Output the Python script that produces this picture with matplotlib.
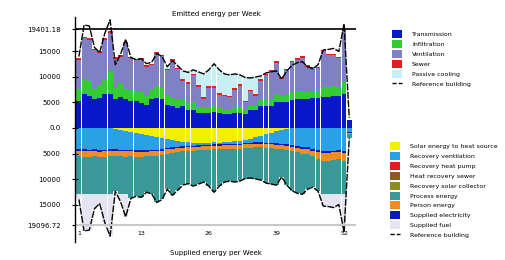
import matplotlib
matplotlib.use('Agg')
import matplotlib.pyplot as plt
from matplotlib.patches import Patch
from matplotlib.lines import Line2D
import numpy as np

weeks = list(range(1, 54))

# emitted energy (top half)
transmission = [5300, 6600, 6300, 5600, 5800, 6700, 6700, 5600, 6000, 5600, 5300, 5300, 4900, 4600, 5600, 5900, 5600, 4600,
                4300, 3900, 4300, 3600, 3600, 3000, 3000, 3000, 3200, 3000, 2800, 2800, 2900, 3000, 2800, 3600, 3600, 4300,
                4300, 4300, 5000, 5000, 5000, 5400, 5600, 5600, 5600, 5800, 5800, 6000, 6000, 6200, 6200, 6600, 1500]
infiltration = [2300, 3000, 3000, 2000, 2600, 2800, 4400, 2200, 2900, 2000, 2200, 2000, 2100, 1700, 1800, 2400, 2200, 1800,
                1600, 1500, 1300, 1300, 1500, 1100, 900, 1000, 1100, 900, 800, 800, 1000, 1100, 700, 1000, 900, 1200,
                1300, 1400, 1700, 1200, 1400, 1600, 1700, 1600, 1400, 1400, 1400, 2000, 2000, 2000, 1900, 2400, 100]
ventilation = [5800, 8000, 8000, 7600, 6300, 7800, 7600, 5800, 5100, 9000, 6200, 6000, 6500, 5700, 4900, 6200, 6300, 4900,
               7300, 6100, 3700, 3800, 5200, 4000, 1800, 3900, 3600, 2600, 2600, 2400, 3600, 4200, 1500, 2600, 1800, 3800,
               4700, 5300, 6100, 3500, 4900, 5900, 6100, 6600, 5000, 4500, 4500, 7000, 6300, 6100, 5600, 10000, 0]
sewer = [300] * 52 + [0]
passive_cooling = [0, 0, 0, 0, 0, 0, 0, 0, 0, 0, 0, 0, 0, 0, 0, 0, 0, 400,
                   0, 400, 1600, 1900, 800, 2600, 4600, 3200, 4400, 4600, 4100, 4100, 2800, 1800, 4600, 2300, 3400, 600,
                   200, 0, 0, 0, 0, 0, 0, 0, 0, 0, 0, 0, 0, 0, 0, 0, 0]

reference = [14000, 20200, 20000, 15800, 14800, 18600, 21200, 12400, 14400, 17400, 13800, 13400, 13600, 12600, 12900, 14600,
             14000, 12000, 13200, 12200, 11200, 10900, 11400, 11000, 10600, 11400, 12600, 11400, 10600, 10400, 10600, 10400,
             9900, 9800, 10000, 10200, 10800, 11000, 11200, 9600, 11200, 12300, 12800, 13000, 12000, 11600, 12400, 15300,
             15400, 15600, 15000, 20400, 2000]

# supplied energy (bottom half)
solar_heat_source = [0, 0, 0, 0, 0, 0, 0, 200, 300, 500, 700, 900, 1200, 1400, 1500, 1700, 1900, 2100, 2300, 2500, 2700,
                     2800, 3000, 3000, 2900, 3000, 2800, 2900, 2800, 2700, 2600, 2500, 2300, 2100, 1800, 1500, 1200, 900,
                     600, 400, 200, 0, 0, 0, 0, 0, 0, 0, 0, 0, 0, 0, 0]
recovery_ventilation = [4200, 4200, 4300, 4200, 4400, 4300, 4200, 4000, 4000, 3800, 3600, 3500, 3200, 3000, 2800, 2600,
                        2300, 1800, 1500, 1200, 900, 700, 500, 400, 400, 300, 400, 300, 300, 400, 500, 600, 600, 800, 1000,
                        1300, 1700, 2000, 2400, 2700, 3000, 3400, 3600, 3800, 3800, 4200, 4400, 4600, 4600, 4500, 4400,
                        4600, 800]
recovery_heat_pump = [0] * 53
heat_recovery_sewer = [0] * 53
recovery_solar_collector = [0] * 53
supplied_electricity = [300] * 52 + [100]
person_energy = [900, 1200, 1000, 900, 1000, 1100, 1000, 900, 900, 1000, 900, 900, 900, 800, 900, 900, 800, 800, 800, 800,
                 700, 700, 700, 700, 700, 700, 700, 700, 700, 700, 700, 700, 700, 700, 700, 700, 800, 800, 800, 800, 800,
                 900, 900, 900, 900, 1000, 1300, 1500, 1500, 1400, 1300, 1500, 200]
process_energy = [7600, 7300, 7400, 7600, 7300, 7300, 7500, 7000, 7500, 7400, 8300, 7800, 8000, 7100, 7400, 9100, 8700,
                  7000, 8300, 7400, 6600, 6400, 6900, 6600, 6300, 7100, 8400, 7200, 6500, 6300, 6500, 6300, 6000, 5900,
                  6200, 6400, 6800, 7000, 7100, 5400, 6900, 7700, 8000, 8000, 7000, 6100, 6400, 6600, 6600, 6800, 7000,
                  6600, 900]
supplied_fuel = [1000, 7200, 7000, 2800, 1800, 5600, 8200, 0, 1400, 4400] + [0] * 37 + [2300, 2400, 2600, 2000, 7400, 0]

top_max = 19401.18
bottom_max = 19096.72

top_series = [
    ('Transmission', transmission, '#0818C8'),
    ('Infiltration', infiltration, '#33CC33'),
    ('Ventilation', ventilation, '#8080C4'),
    ('Sewer', sewer, '#E02020'),
    ('Passive cooling', passive_cooling, '#C8F0F4'),
]
bottom_series = [
    ('Solar energy to heat source', solar_heat_source, '#F2F000'),
    ('Recovery ventilation', recovery_ventilation, '#2AA0E6'),
    ('Recovery heat pump', recovery_heat_pump, '#E02020'),
    ('Heat recovery sewer', heat_recovery_sewer, '#8B5A1E'),
    ('Recovery solar collector', recovery_solar_collector, '#8C8C20'),
    ('Supplied electricity', supplied_electricity, '#0A1AB8'),
    ('Person energy', person_energy, '#F08C20'),
    ('Process energy', process_energy, '#3A9898'),
    ('Supplied fuel', supplied_fuel, '#E4E4F2'),
]
bottom_legend_order = ['Solar energy to heat source', 'Recovery ventilation', 'Recovery heat pump',
                       'Heat recovery sewer', 'Recovery solar collector', 'Process energy', 'Person energy',
                       'Supplied electricity', 'Supplied fuel']

fig = plt.figure(figsize=(5.06, 2.6), dpi=100)
ax = fig.add_axes([75 / 506, 18 / 260, 281 / 506, 225 / 260])

x = np.array(weeks)
base = np.zeros(len(weeks))
for name, vals, col in top_series:
    ax.bar(x, vals, width=0.93, bottom=base, color=col, linewidth=0)
    base = base + np.array(vals)

base = np.zeros(len(weeks))
for name, vals, col in bottom_series:
    v = -np.array(vals)
    ax.bar(x, v, width=0.93, bottom=base, color=col, linewidth=0)
    base = base + v

ref = np.array(reference)
ax.plot(x, ref, color='black', lw=1.0, dashes=(5, 1))
ax.plot(x, -ref, color='black', lw=1.0, dashes=(5, 1))

ax.axhline(top_max, xmin=0.005, xmax=1.0, color='black', lw=1.2)
ax.axhline(-bottom_max, xmin=0.005, xmax=1.0, color='#c8c8c8', lw=1.5)

ax.set_xlim(0.25, 54.3)
ax.set_ylim(-22344, 21756)
for s in ['top', 'right', 'bottom']:
    ax.spines[s].set_visible(False)
ax.spines['left'].set_linewidth(1.0)
ax.set_xticks([])
ax.set_yticks([top_max, 15000, 10000, 5000, 0, -5000, -10000, -15000, -bottom_max])
ax.set_yticklabels(['19401.18', '15000', '10000', '5000', '0.0', '5000', '10000', '15000', '19096.72'])
ax.tick_params(axis='y', direction='inout', length=5, width=0.8, labelsize=5, pad=8)

for wk in [1, 13, 26, 39, 52]:
    ax.text(wk, -20700, str(wk), fontsize=4.5, ha='center', va='center')

fig.text(0.427, 0.948, 'Emitted energy per Week', fontsize=5, ha='center', va='center')
fig.text(0.427, 0.027, 'Supplied energy per Week', fontsize=5, ha='center', va='center')

ref_handle = Line2D([0], [0], color='black', lw=1.0, dashes=(3, 1.5))
top_handles = [Patch(facecolor=c, edgecolor='none') for _, _, c in top_series] + [ref_handle]
top_labels = [n for n, _, _ in top_series] + ['Reference building']
leg_kw = dict(loc='upper left', frameon=False, fontsize=4.5, handlelength=1.6, handleheight=1.6,
              labelspacing=0.3, handletextpad=1.6, borderpad=0, borderaxespad=0)
fig.legend(top_handles, top_labels, bbox_to_anchor=(392 / 506, 1 - 30 / 260), **leg_kw)

bcol = {n: c for n, _, c in bottom_series}
bottom_handles = [Patch(facecolor=bcol[n], edgecolor='none') for n in bottom_legend_order] + [ref_handle]
bottom_labels = bottom_legend_order + ['Reference building']
fig.legend(bottom_handles, bottom_labels, bbox_to_anchor=(390 / 506, 1 - 142 / 260), **leg_kw)

fig.savefig('out.png', dpi=100)
